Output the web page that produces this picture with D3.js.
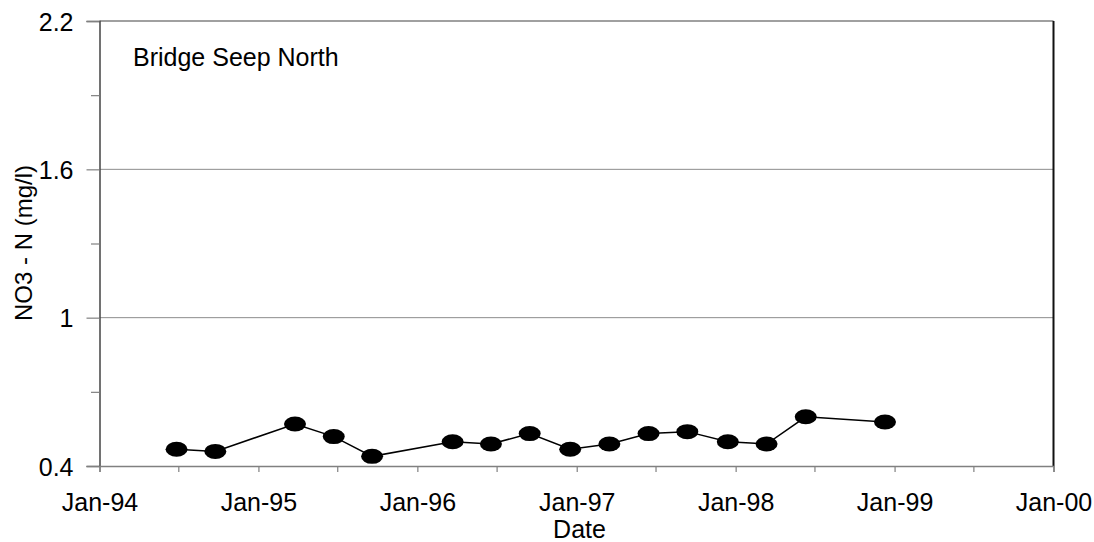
<!DOCTYPE html>
<html>
<head>
<meta charset="utf-8">
<script src="https://cdn.jsdelivr.net/npm/d3@7"></script>
<style>
  html, body { margin: 0; padding: 0; background: #fff; }
  svg { display: block; font-family: "Liberation Sans", Arial, sans-serif; }
</style>
</head>
<body>
<svg id="chart" width="1094" height="542"></svg>
<script>
// Sampling dates and nitrate-nitrogen concentrations at Bridge Seep North
const sampleDates = [
  "1994-06-27", "1994-09-24", "1995-03-26", "1995-06-23", "1995-09-19",
  "1996-03-22", "1996-06-18", "1996-09-15", "1996-12-17", "1997-03-17",
  "1997-06-15", "1997-09-12", "1997-12-14", "1998-03-13", "1998-06-11",
  "1998-12-10"
];
const no3Values = [
  0.468, 0.459, 0.570, 0.519, 0.439,
  0.498, 0.489, 0.531, 0.468, 0.489,
  0.531, 0.539, 0.498, 0.489, 0.599,
  0.578
];
const yMajorTicks = [0.4, 1.0, 1.6, 2.2];
const yMinorTicks = [0.7, 1.3, 1.9];
const gridValues = [1.0, 1.6];
const chartTitle = "Bridge Seep North";
const xTitle = "Date";
const yTitle = "NO3 - N (mg/l)";

const parse = d3.timeParse("%Y-%m-%d");
const data = sampleDates.map((d, i) => ({ date: parse(d), value: no3Values[i] }));

const svg = d3.select("#chart");
const plot = { left: 99.5, right: 1053.5, top: 21, bottom: 466 };
const fontSize = 25;

const x = d3.scaleTime()
  .domain([new Date(1994, 0, 1), new Date(2000, 0, 1)])
  .range([plot.left, plot.right]);
const y = d3.scaleLinear()
  .domain([0.4, 2.2])
  .range([plot.bottom, plot.top]);

// Horizontal gridlines
svg.append("g").selectAll("line").data(gridValues).join("line")
  .attr("x1", plot.left).attr("x2", plot.right)
  .attr("y1", d => y(d)).attr("y2", d => y(d))
  .attr("stroke", "#8c8c8c").attr("stroke-width", 1);

// Plot frame: top (grey) and right (black)
svg.append("line")
  .attr("x1", plot.left).attr("x2", plot.right)
  .attr("y1", plot.top).attr("y2", plot.top)
  .attr("stroke", "#808080").attr("stroke-width", 1.5);
svg.append("line")
  .attr("x1", plot.right).attr("x2", plot.right)
  .attr("y1", plot.top).attr("y2", plot.bottom)
  .attr("stroke", "#111").attr("stroke-width", 2);

// Y axis with major labelled ticks and minor unlabelled ticks
const fmtY = d => String(+d.toFixed(1));
const yAxis = svg.append("g")
  .attr("transform", `translate(${plot.left},0)`)
  .call(d3.axisLeft(y).tickValues(yMajorTicks).tickFormat(fmtY).tickSize(13).tickPadding(13));
yAxis.select(".domain").attr("stroke", "#444").attr("stroke-width", 1.5);
yAxis.selectAll(".tick line").attr("stroke", "#808080").attr("stroke-width", 1.2);
yAxis.selectAll(".tick text")
  .attr("font-size", fontSize).attr("fill", "#000")
  .attr("font-family", "Liberation Sans, Arial, sans-serif")
  .attr("dy", "0.36em");

const yMinor = svg.append("g")
  .attr("transform", `translate(${plot.left},0)`)
  .call(d3.axisLeft(y).tickValues(yMinorTicks).tickFormat("").tickSize(8.5));
yMinor.select(".domain").remove();
yMinor.selectAll(".tick line").attr("stroke", "#808080").attr("stroke-width", 1.2);

// X axis: ticks every six months, labels on January
const fmtX = d3.timeFormat("%b-%y");
const xAxis = svg.append("g")
  .attr("transform", `translate(0,${plot.bottom})`)
  .call(d3.axisBottom(x)
    .ticks(d3.timeMonth.every(6))
    .tickFormat(d => d.getMonth() === 0 ? fmtX(d) : "")
    .tickSize(6).tickPadding(39));
xAxis.select(".domain").attr("stroke", "#808080").attr("stroke-width", 1.5);
xAxis.selectAll(".tick line").attr("stroke", "#808080").attr("stroke-width", 1.2);
xAxis.selectAll(".tick text")
  .attr("font-size", fontSize).attr("fill", "#000")
  .attr("font-family", "Liberation Sans, Arial, sans-serif")
  .attr("dy", "0");

// Series line
const line = d3.line().x(d => x(d.date)).y(d => y(d.value));
svg.append("path").datum(data)
  .attr("d", line)
  .attr("fill", "none")
  .attr("stroke", "#000")
  .attr("stroke-width", 1.5);

// Markers
svg.append("g").selectAll("ellipse").data(data).join("ellipse")
  .attr("cx", d => x(d.date)).attr("cy", d => y(d.value))
  .attr("rx", 11).attr("ry", 7.5)
  .attr("fill", "#000");

// Titles
svg.append("text")
  .attr("x", 133).attr("y", 66)
  .attr("font-size", fontSize).attr("fill", "#000")
  .text(chartTitle);

svg.append("text")
  .attr("x", (plot.left + plot.right) / 2 + 3).attr("y", 538)
  .attr("text-anchor", "middle")
  .attr("font-size", fontSize).attr("fill", "#000")
  .text(xTitle);

svg.append("text")
  .attr("transform", `translate(32,243) rotate(-90)`)
  .attr("text-anchor", "middle")
  .attr("font-size", 24).attr("fill", "#000")
  .text(yTitle);
</script>
</body>
</html>
